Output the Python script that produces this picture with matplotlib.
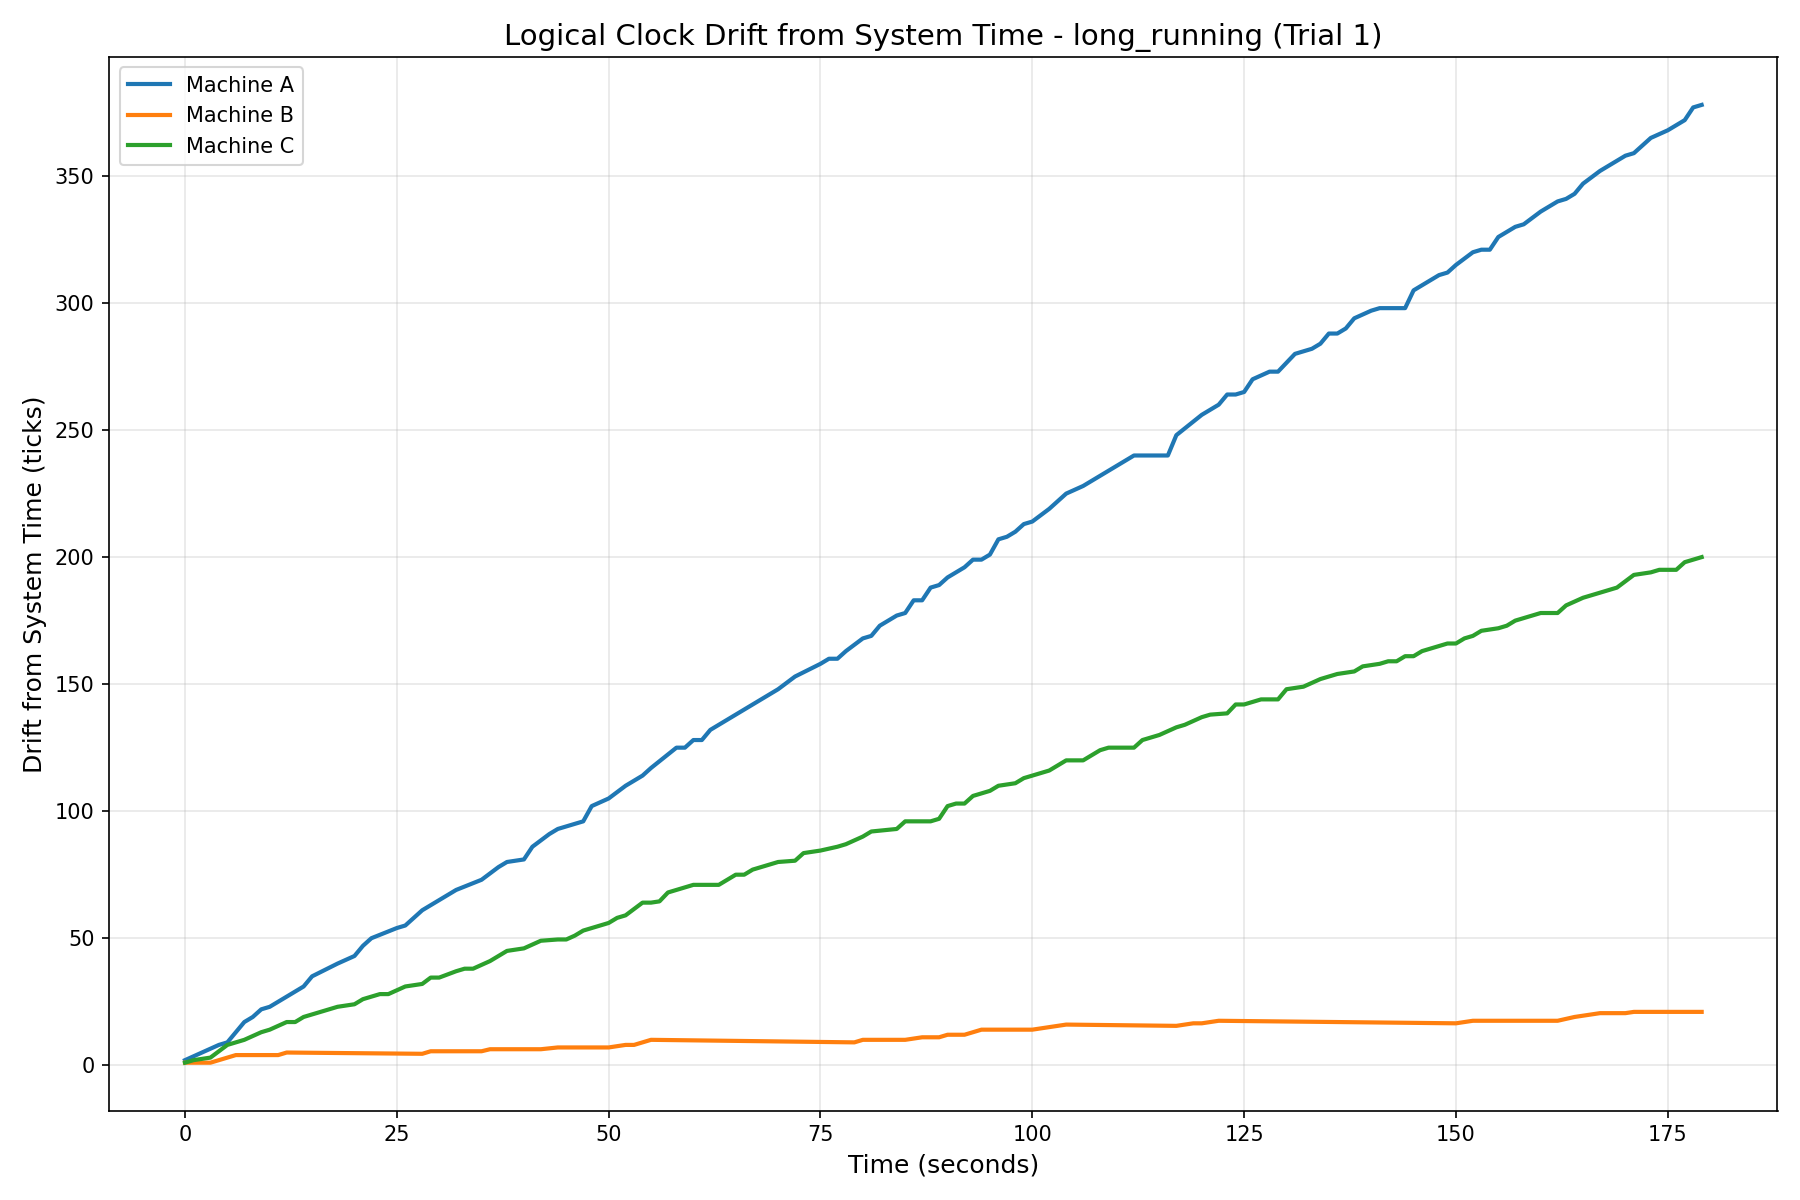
import matplotlib
matplotlib.use("Agg")
import matplotlib.pyplot as plt

# values (time in s, drift in ticks)
a_t = [0, 2, 4, 5, 7, 8, 9, 10, 12, 14, 15, 18, 20, 21, 22, 25, 26, 28, 30, 32, 35, 37, 38, 40, 41, 43, 44, 45, 46, 47, 48, 50, 52, 54, 55, 58, 59, 60, 61, 62, 65, 67, 70, 72, 75, 76, 77, 78, 80, 81, 82, 84, 85, 86, 87, 88, 89, 90, 92, 93, 94, 95, 96, 97, 98, 99, 100, 102, 103, 104, 106, 110, 112, 116, 117, 120, 122, 123, 124, 125, 126, 128, 129, 131, 133, 134, 135, 136, 137, 138, 140, 141, 144, 145, 147, 148, 149, 150, 152, 153, 154, 155, 157, 158, 160, 162, 163, 164, 165, 167, 170, 171, 173, 175, 176, 177, 178, 179]
a_v = [2, 5, 8, 9, 17, 19, 22, 23, 27, 31, 35, 40, 43, 47, 50, 54, 55, 61, 65, 69, 73, 78, 80, 81, 86, 91, 93, 94, 95, 96, 102, 105, 110, 114, 117, 125, 125, 128, 128, 132, 138, 142, 148, 153, 158, 160, 160, 163, 168, 169, 173, 177, 178, 183, 183, 188, 189, 192, 196, 199, 199, 201, 207, 208, 210, 213, 214, 219, 222, 225, 228, 236, 240, 240, 248, 256, 260, 264, 264, 265, 270, 273, 273, 280, 282, 284, 288, 288, 290, 294, 297, 298, 298, 305, 309, 311, 312, 315, 320, 321, 321, 326, 330, 331, 336, 340, 341, 343, 347, 352, 358, 359, 365, 368, 370, 372, 377, 378]

b_t = [0, 3, 4, 5, 6, 11, 12, 28, 29, 35, 36, 42, 44, 50, 51, 52, 53, 55, 79, 80, 85, 87, 89, 90, 92, 94, 100, 102, 104, 117, 119, 120, 122, 150, 152, 162, 164, 166, 167, 170, 171, 179]
b_v = [1, 1, 2, 3, 4, 4, 5, 4.5, 5.5, 5.5, 6.3, 6.3, 7, 7, 7.5, 8, 8, 10, 9, 10, 10, 11, 11, 12, 12, 14, 14, 15, 16, 15.5, 16.5, 16.5, 17.5, 16.5, 17.5, 17.5, 19, 20, 20.5, 20.5, 21, 21]

c_t = [0, 1, 3, 5, 7, 9, 10, 12, 13, 14, 16, 17, 18, 20, 21, 23, 24, 26, 28, 29, 30, 32, 33, 34, 36, 38, 40, 42, 44, 45, 46, 47, 50, 51, 52, 54, 55, 56, 57, 60, 63, 65, 66, 67, 69, 70, 72, 73, 75, 77, 78, 80, 81, 84, 85, 88, 89, 90, 91, 92, 93, 94, 95, 96, 98, 99, 100, 101, 102, 103, 104, 106, 107, 108, 109, 112, 113, 115, 117, 118, 120, 121, 123, 124, 125, 127, 129, 130, 132, 134, 136, 138, 139, 141, 142, 143, 144, 145, 146, 149, 150, 151, 152, 153, 155, 156, 157, 159, 160, 162, 163, 165, 166, 168, 169, 171, 173, 174, 176, 177, 179]
c_v = [1, 2, 3, 8, 10, 13, 14, 17, 17, 19, 21, 22, 23, 24, 26, 28, 28, 31, 32, 34.5, 34.5, 37, 38, 38, 41, 45, 46, 49, 49.5, 49.5, 51, 53, 56, 58, 59, 64, 64, 64.5, 68, 71, 71, 75, 75, 77, 79, 80, 80.5, 83.5, 84.5, 86, 87, 90, 92, 93, 96, 96, 97, 102, 103, 103, 106, 107, 108, 110, 111, 113, 114, 115, 116, 118, 120, 120, 122, 124, 125, 125, 128, 130, 133, 134, 137, 138, 138.5, 142, 142, 144, 144, 148, 149, 152, 154, 155, 157, 158, 159, 159, 161, 161, 163, 166, 166, 168, 169, 171, 172, 173, 175, 177, 178, 178, 181, 184, 185, 187, 188, 193, 194, 195, 195, 198, 200]

series = [("Machine A", a_t, a_v, "#1f77b4"),
          ("Machine B", b_t, b_v, "#ff7f0e"),
          ("Machine C", c_t, c_v, "#2ca02c")]

fig, ax = plt.subplots(figsize=(12, 8), dpi=150)
for name, t, v, col in series:
    ax.plot(t, v, color=col, alpha=0.3, linewidth=1)
    ax.plot(t, v, color=col, linewidth=2, label=name)

ax.set_title("Logical Clock Drift from System Time - long_running (Trial 1)", fontsize=14)
ax.set_xlabel("Time (seconds)", fontsize=12)
ax.set_ylabel("Drift from System Time (ticks)", fontsize=12)
ax.grid(True, alpha=0.3)
ax.legend(loc="upper left")
plt.tight_layout()
plt.savefig("out.png")
plt.close()
